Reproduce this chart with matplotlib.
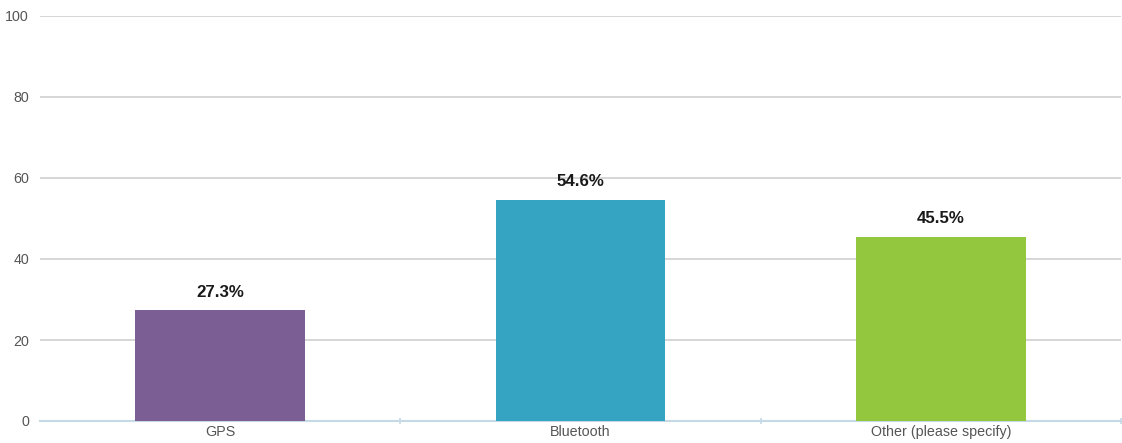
import matplotlib
matplotlib.use("Agg")
import matplotlib.pyplot as plt
import numpy as np

categories = ["GPS", "Bluetooth", "Other (please specify)"]
values = [27.3, 54.6, 45.5]
colors = ["#7B5E94", "#35A3C2", "#93C73E"]
yticks = [0, 20, 40, 60, 80, 100]

plt.rcParams["font.family"] = ["Liberation Sans", "DejaVu Sans"]

fig = plt.figure(figsize=(11.22, 4.43), dpi=100)
ax = fig.add_axes([40 / 1122, 22 / 443, 1081 / 1122, 405 / 443])

x = np.arange(len(categories))
bars = ax.bar(x, values, width=0.47, color=colors, zorder=3)

for rect, v in zip(bars, values):
    ax.text(rect.get_x() + rect.get_width() / 2, v + 2.6, f"{v:.1f}%",
            ha="center", va="bottom", fontsize=12.2, fontweight="bold", color="#1a1a1a")

ax.set_xlim(-0.5, len(categories) - 0.5)
ax.set_ylim(0, 100)
ax.set_yticks(yticks)
ax.set_yticklabels([str(t) for t in yticks])
ax.yaxis.grid(True, color="#CFCFCF", linewidth=1.2, zorder=0)
ax.set_axisbelow(True)

ax.set_xticks(x)
ax.set_xticklabels(categories)
# minor ticks marking category boundaries
ax.set_xticks(np.arange(0.5, len(categories), 1), minor=True)
ax.tick_params(axis="x", which="major", length=0, pad=3, labelsize=10.3, labelcolor="#555555")
ax.tick_params(axis="x", which="minor", length=5, color="#C6D9E6", direction="inout", width=1.2)
ax.tick_params(axis="y", length=0, pad=8, labelsize=10.3, labelcolor="#555555")

for s in ["top", "right", "left"]:
    ax.spines[s].set_visible(False)
ax.spines["bottom"].set_color("#C6D9E6")
ax.spines["bottom"].set_linewidth(1.5)

fig.savefig("out.png", dpi=100)
